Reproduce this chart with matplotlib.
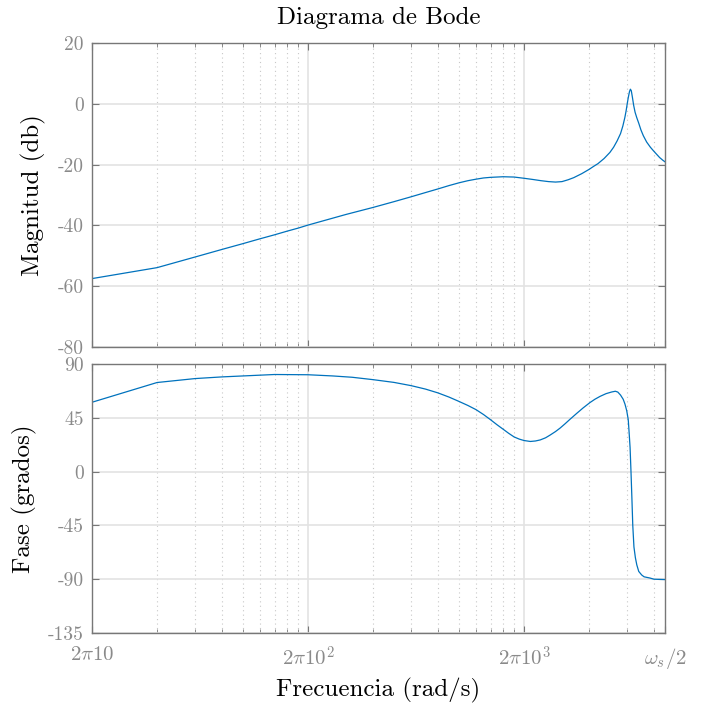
import numpy as np
import matplotlib
matplotlib.use("Agg")
import matplotlib.pyplot as plt
from matplotlib.ticker import FixedLocator, NullFormatter

plt.rcParams["font.family"] = ["cmr10", "DejaVu Serif"]
plt.rcParams["mathtext.fontset"] = "cm"
plt.rcParams["axes.unicode_minus"] = False

# Frequency response samples (frequency in Hz)
freq_mag_hz = [10, 20, 30, 40, 50, 60, 70, 80, 90, 100, 150, 200, 250, 300, 350,
               400, 450, 500, 550, 600, 650, 700, 800, 900, 1000, 1100, 1200,
               1300, 1400, 1500, 1600, 1700, 1850, 2000, 2100, 2200, 2350, 2500,
               2600, 2700, 2800, 2870, 2930, 2970, 3010, 3040, 3080, 3110, 3140,
               3180, 3220, 3270, 3330, 3400, 3480, 3570, 3700, 3850, 3970, 4100,
               4250, 4400, 4500]
mag_db = [-57.5, -53.9, -50.4, -47.9, -46.0, -44.4, -43.1, -41.9, -40.9, -39.9,
          -36.4, -34.1, -32.2, -30.6, -29.2, -28.0, -26.9, -26.0, -25.3, -24.8,
          -24.4, -24.2, -24.0, -24.1, -24.5, -24.9, -25.3, -25.6, -25.75, -25.6,
          -25.0, -24.3, -23.0, -21.6, -20.6, -19.7, -18.0, -16.0, -14.3, -12.2,
          -9.8, -7.3, -4.6, -2.4, 0.2, 2.0, 4.0, 4.8, 4.3, 2.0, -0.5, -2.8,
          -4.6, -6.4, -8.6, -10.5, -12.6, -14.3, -15.4, -16.5, -17.7, -18.6,
          -19.1]

freq_ph_hz = [10, 20, 30, 40, 50, 70, 100, 130, 160, 200, 250, 300, 350, 400,
              450, 500, 550, 600, 650, 700, 750, 800, 850, 900, 950, 1000, 1070,
              1130, 1190, 1260, 1320, 1400, 1470, 1550, 1630, 1750, 1880, 2020,
              2130, 2250, 2400, 2550, 2650, 2720, 2800, 2880, 2935, 2990, 3040,
              3070, 3100, 3130, 3160, 3190, 3230, 3280, 3330, 3400, 3510, 3600,
              3830, 4000, 4500]
phase_deg = [58.0, 74.5, 77.8, 79.2, 80.0, 81.2, 81.0, 80.0, 78.9, 76.9, 74.6,
             71.9, 69.0, 65.8, 62.3, 58.7, 55.3, 51.8, 47.7, 43.4, 39.2, 35.5,
             32.0, 29.0, 27.2, 26.0, 25.2, 25.6, 26.5, 28.3, 30.5, 33.5, 36.4,
             40.0, 43.6, 48.5, 53.3, 57.7, 60.5, 62.9, 65.2, 66.6, 67.2, 66.5,
             64.0, 60.5, 56.5, 51.0, 43.4, 32.0, 20.0, 0.0, -22.0, -45.0, -63.0,
             -72.0, -78.0, -83.5, -86.5, -88.0, -89.0, -90.0, -90.3]

decade_hz = [10, 100, 1000]
minor_hz = [20, 30, 40, 50, 60, 70, 80, 90, 200, 300, 400, 500, 600, 700, 800,
            900, 2000, 3000, 4000]
nyquist_hz = 4500
xtick_labels = [r"$2\pi10$", r"$2\pi10^2$", r"$2\pi10^3$", r"$\omega_s/2$"]

mag_ticks = [-80, -60, -40, -20, 0, 20]
phase_ticks = [-135, -90, -45, 0, 45, 90]

w_mag = 2 * np.pi * np.array(freq_mag_hz)
w_ph = 2 * np.pi * np.array(freq_ph_hz)
w_major = 2 * np.pi * np.array(decade_hz)
w_minor = 2 * np.pi * np.array(minor_hz)
w_lo, w_hi = 2 * np.pi * 10, 2 * np.pi * nyquist_hz

line_color = "#0072BD"
spine_color = "#777777"
label_gray = "#8a8a8a"

fig = plt.figure(figsize=(7.09, 7.08), dpi=100)
ax1 = fig.add_axes([0.1298, 0.5099, 0.8082, 0.4294])
ax2 = fig.add_axes([0.1298, 0.1059, 0.8082, 0.3800])


def style(ax, yticks, ylim):
    ax.set_xscale("log")
    ax.set_xlim(w_lo, w_hi)
    ax.set_ylim(*ylim)
    ax.xaxis.set_major_locator(FixedLocator(list(w_major) + [w_hi]))
    ax.xaxis.set_minor_locator(FixedLocator(w_minor))
    ax.xaxis.set_minor_formatter(NullFormatter())
    ax.set_yticks(yticks)
    ax.set_yticklabels([str(t) for t in yticks])
    for s in ax.spines.values():
        s.set_color(spine_color)
        s.set_linewidth(1.0)
    ax.tick_params(which="both", direction="in", top=True, right=True,
                   colors=spine_color, labelcolor=label_gray, labelsize=14)
    ax.tick_params(which="major", length=5, width=0.8)
    ax.tick_params(which="minor", length=3, width=0.6)
    ax.tick_params(axis="y", pad=6)
    # horizontal major grid
    ax.grid(True, axis="y", which="major", color="#e3e3e3", linewidth=1.2,
            linestyle="-")
    # vertical decade lines and dotted minor lines
    for w in w_major:
        ax.axvline(w, color="#e3e3e3", linewidth=1.2, zorder=0.5)
    for w in w_minor:
        ax.axvline(w, color="#c8c8c8", linewidth=0.8, linestyle=(0, (1, 3)),
                   zorder=0.5)
    ax.set_axisbelow(True)


style(ax1, mag_ticks, (-80, 20))
style(ax2, phase_ticks, (-135, 90))

ax1.plot(w_mag, mag_db, color=line_color, linewidth=0.9)
ax2.plot(w_ph, phase_deg, color=line_color, linewidth=0.9)

ax1.set_xticklabels([])
ax2.set_xticklabels(xtick_labels)
ax2.tick_params(axis="x", pad=9, labelsize=15)

ax1.set_title("Diagrama de Bode", fontsize=18, pad=14)
ax1.set_ylabel("Magnitud (db)", fontsize=18, labelpad=8)
ax2.set_ylabel("Fase (grados)", fontsize=18, labelpad=8)
ax2.set_xlabel("Frecuencia (rad/s)", fontsize=18, labelpad=5)

fig.savefig("out.png", dpi=100, facecolor="white")
